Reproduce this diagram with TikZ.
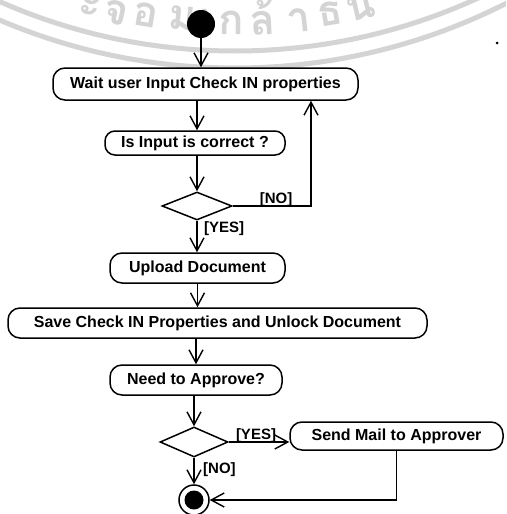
\documentclass[tikz,border=0pt]{standalone}
\usepackage{fontspec}
\setmainfont{Liberation Sans}
\newfontfamily\thaifont[Script=Thai]{Loma}
\usetikzlibrary{shapes.geometric,arrows.meta}
\definecolor{wmgray}{RGB}{212,212,212}
\tikzset{
  act/.style={draw, line width=1.5pt, rounded corners=12pt, fill=white, inner sep=0pt,
    font=\bfseries\fontsize{16}{18}\selectfont},
  decision/.style={draw, diamond, line width=1.5pt, fill=white, inner sep=0pt},
  flow/.style={line width=1.4pt, -{Straight Barb[length=13pt,width=14pt,line width=1.4pt]}},
  guard/.style={font=\bfseries\fontsize{15}{17}\selectfont, inner sep=0pt},
  wmband/.style={wmgray, line width=5pt},
  wmglyph/.style={text=wmgray, font=\thaifont\bfseries\fontsize{42}{44}\selectfont,
    inner sep=0pt, anchor=base, text height=17pt, text depth=0pt},
}
\begin{document}
\begin{tikzpicture}[x=1pt,y=-1pt]
\useasboundingbox (0,0) rectangle (506,514);
\clip (0,0) rectangle (506,514);
\fill[white] (0,0) rectangle (506,514);

% university seal printed faintly on the page
\coordinate (sealc) at (235,-532);
\draw[wmband] (sealc) circle[radius=600];
\draw[wmband] (sealc) circle[radius=583];
\foreach \gx/\gy/\g in {87/16/ะ, 114/24/จ, 144/27/อ, 181/30/ม, 206/33/เ, 231/35/ก,
                        263/35/ล้, 300/32/า, 332/25/ธ, 363/19/น}{
  \pgfmathsetmacro\tilt{-asin((235-\gx)/565)}
  \node[wmglyph, rotate=\tilt] at (\gx,\gy) {\g};
}
\fill (497,43) circle[radius=1.5];

% activities
\node[circle, fill=black, minimum size=28pt, inner sep=0pt] (start) at (201,24) {};
\node[act, minimum width=305pt, minimum height=32pt] (wait) at (205.5,84)
  {Wait user Input Check IN properties};
\node[act, rounded corners=10pt, minimum width=180pt, minimum height=24pt] (check) at (195,143)
  {Is Input is correct ?};
\node[decision, minimum width=70pt, minimum height=28pt] (dec1) at (197,206) {};
\node[act, minimum width=175pt, minimum height=30pt] (upload) at (197.5,268)
  {Upload Document};
\node[act, minimum width=419pt, minimum height=30pt] (save) at (217.5,323)
  {Save Check IN Properties and Unlock Document};
\node[act, minimum width=172pt, minimum height=30pt] (approve) at (196,380)
  {Need to Approve?};
\node[decision, minimum width=68pt, minimum height=30pt] (dec2) at (194,442) {};
\node[act, minimum width=213pt, minimum height=28pt] (mail) at (396.5,436)
  {Send Mail to Approver};
\node[circle, draw, line width=1.5pt, fill=white, minimum size=30pt, inner sep=0pt] (finish) at (194,500) {};
\node[circle, fill=black, minimum size=19pt, inner sep=0pt] at (finish) {};

% transitions
\coordinate (retry) at (311,0);
\draw[flow] (start.south) -- (start.south |- wait.north);
\draw[flow] (wait.south -| dec1.north) -- (check.north -| dec1.north);
\draw[flow] (check.south -| dec1.north) -- (dec1.north);
\draw[flow] (dec1.east) -- (dec1.east -| retry) -- (retry |- wait.south);
\node[guard, anchor=south] at (276,207) {[NO]};
\draw[flow] (dec1.south) -- (dec1.south |- upload.north);
\node[guard, anchor=west] at (204,229) {[YES]};
\draw[flow] (upload.south) -- (upload.south |- save.north);
\draw[flow] (approve.north |- save.south) -- (approve.north);
\draw[flow] (approve.south -| dec2.north) -- (dec2.north);
\draw[flow] (dec2.east) -- (dec2.east -| mail.west);
\node[guard, anchor=south] at (256,443) {[YES]};
\draw[flow] (dec2.south) -- (finish.north);
\node[guard, anchor=west] at (203,470) {[NO]};
\draw[flow] (mail.south) |- (finish.east);
\end{tikzpicture}
\end{document}
